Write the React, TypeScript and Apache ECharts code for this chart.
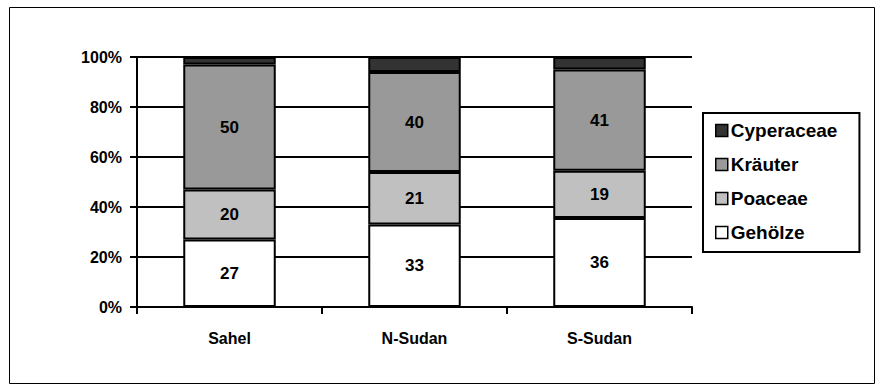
import React, { useEffect, useRef } from "react";
import * as echarts from "echarts";

const categories = ["Sahel", "N-Sudan", "S-Sudan"];
const gehoelze = [27, 33, 36];
const poaceae = [20, 21, 19];
const kraeuter = [50, 40, 41];
const cyperaceae = [3, 6, 5];
const yTicks = [0, 20, 40, 60, 80, 100];

const FONT = "Arial, 'Liberation Sans', sans-serif";

export default function App() {
  const ref = useRef<HTMLDivElement>(null);
  useEffect(() => {
    if (!ref.current) return;
    const chart = echarts.init(ref.current, null, { renderer: "svg" });
    const totals = categories.map(
      (_, i) => gehoelze[i] + poaceae[i] + kraeuter[i] + cyperaceae[i]
    );
    const norm = (arr: number[]) => arr.map((v, i) => (v / totals[i]) * 100);
    const mk = (name: string, raw: number[], color: string, showLabel: boolean) => ({
      name,
      type: "bar",
      stack: "all",
      barCategoryGap: "50%",
      data: norm(raw),
      itemStyle: { color, borderColor: "#000", borderWidth: 2 },
      label: {
        show: showLabel,
        position: "inside",
        color: "#000",
        fontFamily: FONT,
        fontWeight: "bold",
        fontSize: 17,
        formatter: (p: any) => String(raw[p.dataIndex]),
      },
    });
    chart.setOption({
      animation: false,
      backgroundColor: "#fff",
      grid: { left: 137, right: 188, top: 57, bottom: 80, containLabel: false },
      xAxis: {
        type: "category",
        data: categories,
        boundaryGap: true,
        axisLine: { show: true, lineStyle: { color: "#000", width: 2 } },
        axisTick: { show: true, length: 7, lineStyle: { color: "#000", width: 2 } },
        axisLabel: {
          color: "#000",
          fontFamily: FONT,
          fontWeight: "bold",
          fontSize: 16,
          margin: 23,
        },
      },
      yAxis: {
        type: "value",
        min: yTicks[0],
        max: yTicks[yTicks.length - 1],
        interval: 20,
        axisLine: { show: true, lineStyle: { color: "#000", width: 2 } },
        axisTick: { show: true, length: 7, lineStyle: { color: "#000", width: 2 } },
        splitLine: { show: true, lineStyle: { color: "#000", width: 2 } },
        axisLabel: {
          color: "#000",
          fontFamily: FONT,
          fontWeight: "bold",
          fontSize: 16,
          margin: 15,
          formatter: "{value}%",
        },
      },
      legend: {
        orient: "vertical",
        left: 703,
        top: 113,
        data: ["Cyperaceae", "Kräuter", "Poaceae", "Gehölze"],
        icon: "rect",
        itemWidth: 12,
        itemHeight: 12,
        itemGap: 15,
        padding: [8, 22, 10, 12],
        borderColor: "#000",
        borderWidth: 2,
        itemStyle: { borderColor: "#000", borderWidth: 1.5 },
        textStyle: {
          color: "#000",
          fontFamily: FONT,
          fontWeight: "bold",
          fontSize: 19,
          padding: [0, 0, 0, -2],
        },
      },
      graphic: [
        {
          type: "rect",
          left: 7,
          top: 5,
          shape: { x: 0, y: 0, width: 865, height: 376 },
          style: { fill: "none", stroke: "#000", lineWidth: 1 },
          silent: true,
        },
      ],
      series: [
        mk("Gehölze", gehoelze, "#ffffff", true),
        mk("Poaceae", poaceae, "#c0c0c0", true),
        mk("Kräuter", kraeuter, "#999999", true),
        mk("Cyperaceae", cyperaceae, "#333333", false),
      ],
    });
    return () => chart.dispose();
  }, []);
  return (
    <div
      ref={ref}
      style={{ position: "fixed", left: 0, top: 0, width: 880, height: 387 }}
    />
  );
}
